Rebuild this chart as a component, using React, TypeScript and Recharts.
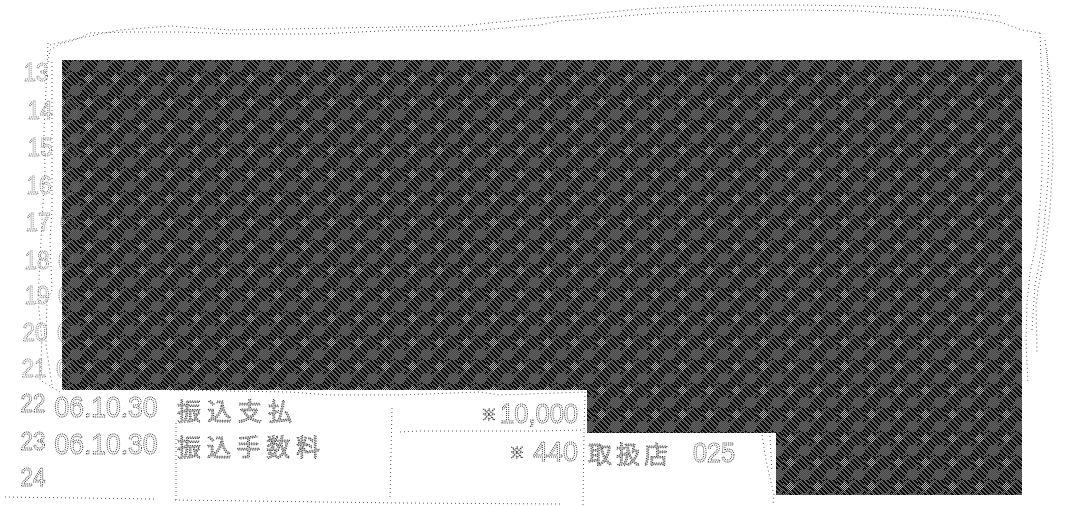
import { ComposedChart, Area, Line, Scatter, XAxis, YAxis } from 'recharts';

// Blacked-out part of the passbook page: top and bottom edge at each x
const maskX = [62, 587, 776, 1022];
const maskTop = [60, 60, 60, 60];
const maskBottom = [390, 433, 495, 495];

const rowNumbers = ['13', '14', '15', '16', '17', '18', '19', '20', '21', '22', '23', '24'];
const rowNumberX = [36, 40, 40, 39, 38, 37, 37, 35, 34, 33, 33, 33];
const rowNumberY = [72, 110, 147, 185, 222, 260, 295, 332, 368, 403, 441, 477];

// Dates that stick out from behind the mask on the upper rows
const hiddenDateRows = [1, 2, 3, 4, 5, 6, 7, 8];
const hiddenDateX = [70, 70, 70, 68, 66, 66, 65, 64];

const dates = ['06.10.30', '06.10.30'];
const dateY = [406, 443];
const descriptions = ['振込支払', '振込手数料'];
const descriptionWidth = [115, 143];
const descriptionY = [409, 445];
const amounts = ['10,000', '440'];
const amountWidth = [78, 45];
const amountY = [413, 451];
const amountStarX = [489, 517];
const notes = ['取扱店', '025'];
const noteX = [628, 714];
const noteWidth = [80, 42];
const noteY = 452;

// Hand-traced dotted page edges and ruled lines
const edgeTopLower = [[48, 62], [50, 50], [60, 44], [75, 40], [90, 33], [130, 32], [180, 32], [240, 34], [320, 34], [400, 30], [470, 31], [540, 25], [560, 21], [600, 18], [660, 13], [720, 11], [800, 10], [860, 11], [900, 14], [960, 16], [1000, 22], [1022, 30], [1040, 33]];
const edgeTopUpper = [[50, 45], [70, 40], [90, 36], [120, 30], [170, 26], [230, 30], [340, 28], [400, 27], [460, 26], [530, 19], [580, 15], [640, 9], [720, 5], [800, 5], [860, 6], [920, 8], [970, 12], [1000, 16]];
const edgeRightInner = [[1040, 33], [1041, 60], [1043, 90], [1043, 123], [1042, 140], [1042, 173], [1040, 207], [1037, 240], [1030, 273], [1027, 303], [1026, 343], [1028, 383]];
const edgeRightMiddle = [[1047, 50], [1048, 90], [1049, 140], [1048, 180], [1045, 215], [1042, 250], [1035, 285], [1032, 330]];
const edgeRightOuter = [[1045, 40], [1050, 80], [1052, 123], [1053, 160], [1050, 210], [1045, 250], [1038, 290], [1036, 305], [1037, 352]];
const edgeLeft = [[48, 43], [46, 90], [44, 130], [45, 170], [42, 220], [40, 260], [38, 300], [42, 340], [40, 380], [60, 392]];
const edgeLeftInner = [[52, 62], [52, 125], [52, 160], [52, 210], [50, 240], [52, 290], [47, 300], [46, 345], [52, 385]];
const ruleUnderMask = [[170, 390], [290, 392], [330, 395], [400, 395], [480, 392], [500, 395], [584, 392]];
const ruleRow = [[400, 432], [420, 431], [480, 431], [540, 431], [584, 430]];
const ruleBottomLeft = [[5, 497], [155, 499]];
const ruleBottomRight = [[175, 500], [400, 503], [560, 504]];
const columnA = [[176, 423], [176, 500]];
const columnB = [[392, 408], [390, 500]];
const columnC = [[585, 392], [584, 430], [583, 505]];
const edgeCurve = [[762, 435], [766, 460], [770, 478], [774, 495], [773, 505]];
const edgeCurveInner = [[770, 436], [771, 455], [772, 472]];

const maskData = maskX.map((x, i) => ({ x, span: [maskTop[i], maskBottom[i]] }));
const rowData = rowNumbers.map((label, i) => ({ x: rowNumberX[i], y: rowNumberY[i], label, width: 25, size: 26, faint: i < 9 }));
const hiddenDateData = hiddenDateRows.map((row, i) => ({ x: hiddenDateX[i], y: rowNumberY[row], label: '0', width: 16, size: 28, faint: true }));
const dateData = dates.map((label, i) => ({ x: 106, y: dateY[i], label, width: 103, size: 30 }));
const descriptionData = descriptions.map((label, i) => ({ x: 177 + descriptionWidth[i] / 2, y: descriptionY[i], label, width: descriptionWidth[i], size: 24, kanji: true }));
const amountData = amounts.map((label, i) => ({ x: 578 - amountWidth[i] / 2, y: amountY[i], label, width: amountWidth[i], size: 28 }));
const amountStarData = amountStarX.map((x, i) => ({ x, y: amountY[i], label: '※', width: 14, size: 15, kanji: true }));
const noteData = notes.map((label, i) => ({ x: noteX[i], y: noteY, label, width: noteWidth[i], size: i === 0 ? 24 : 28, kanji: i === 0 }));

const toPoints = (line: number[][]) => line.map(([x, y]) => ({ x, y }));
const dottedLines = [edgeTopLower, edgeTopUpper, edgeRightInner, edgeRightMiddle, edgeRightOuter, edgeLeft, edgeLeftInner, ruleUnderMask, ruleRow, ruleBottomLeft, ruleBottomRight, columnA, columnB, columnC, edgeCurve, edgeCurveInner];
const textSeries = [rowData, hiddenDateData, dateData, descriptionData, amountData, amountStarData, noteData];

// Halftone tile for the mask, one rect per pixel
function DitherTile() {
  const pixels = [];
  for (let j = 0; j < 24; j++) {
    for (let i = 0; i < 27; i++) {
      const odd = (i + j) % 2 === 1;
      const band = (i - j + 27) % 5 < 2 && (i + j) % 19 < 15;
      const dotDist = (i - 7) * (i - 7) + (j - 6) * (j - 6);
      const flatDist = (i - 21) * (i - 21) + (j - 18) * (j - 18);
      let fill = odd ? '#747474' : '#2a2a2a';
      if (flatDist < 36) fill = odd ? '#646464' : '#464646';
      else if (dotDist < 18) fill = odd ? '#c4c4c4' : '#141414';
      else if (band) fill = '#060606';
      pixels.push(<rect key={`${i}-${j}`} x={i} y={j} width={1} height={1} fill={fill} />);
    }
  }
  return (
    <pattern id="dither" width={27} height={24} patternUnits="userSpaceOnUse">
      {pixels}
    </pattern>
  );
}

function DottedText(props: any) {
  const { cx, cy, payload } = props;
  return (
    <text
      x={cx}
      y={cy}
      style={{ filter: 'grayscale(1)' }}
      textAnchor="middle"
      dominantBaseline="central"
      fontFamily={payload.kanji ? '"Noto Sans CJK JP"' : '"Liberation Sans"'}
      fontSize={payload.size}
      textLength={payload.width}
      lengthAdjust={payload.kanji ? 'spacing' : 'spacingAndGlyphs'}
      fill={payload.kanji ? '#c4c4c4' : 'none'}
      stroke={payload.faint ? '#6a6a6a' : '#333333'}
      strokeWidth={1}
      strokeDasharray={payload.kanji ? '1 1.4' : '1 1'}
    >
      {payload.label}
    </text>
  );
}

export default function App() {
  return (
    <div style={{ position: 'absolute', left: 0, top: 0, width: 1065, height: 506, background: 'white' }}>
      <ComposedChart width={1065} height={506} data={maskData} margin={{ top: 0, right: 0, bottom: 0, left: 0 }}>
        <defs>
          <DitherTile />
        </defs>
        <XAxis dataKey="x" type="number" domain={[0, 1065]} hide />
        <YAxis dataKey="y" type="number" domain={[0, 506]} reversed hide />
        {textSeries.map((points, index) => (
          <Scatter key={`text-${index}`} data={points} shape={DottedText} isAnimationActive={false} />
        ))}
        <Area dataKey="span" type="stepAfter" fill="url(#dither)" fillOpacity={1} stroke="none" activeDot={false} isAnimationActive={false} />
        {dottedLines.map((line, index) => (
          <Line
            key={`line-${index}`}
            data={toPoints(line)}
            dataKey="y"
            type="linear"
            stroke="#555555"
            strokeWidth={1}
            strokeDasharray="1 3"
            dot={false}
            activeDot={false}
            isAnimationActive={false}
          />
        ))}
      </ComposedChart>
    </div>
  );
}
